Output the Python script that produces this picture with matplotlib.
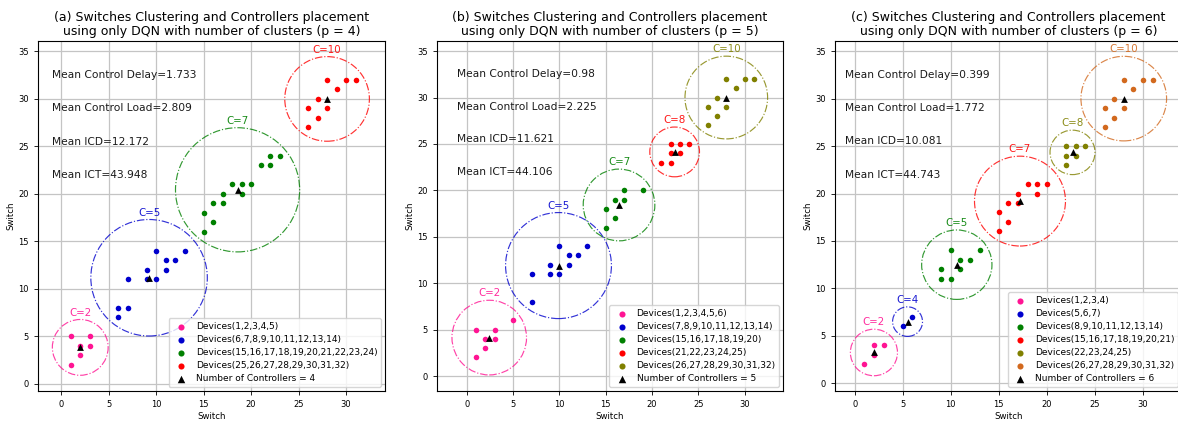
import numpy as np
import matplotlib
matplotlib.use("Agg")
import matplotlib.pyplot as plt
from matplotlib.patches import Circle

# ---------------------------------------------------------------------------
# Data: switch coordinates per cluster, for p = 4, 5, 6
# ---------------------------------------------------------------------------
a_x = [[1, 3, 2, 3, 2, 1],
       [6, 7, 6, 7, 9, 9, 10, 10, 11, 11, 12, 13],
       [15, 16, 15, 16, 17, 17, 19, 18, 19, 20, 21, 22, 22, 23],
       [26, 27, 26, 28, 27, 29, 28, 30, 31]]
a_y = [[5, 5, 4, 4, 3, 2],
       [8, 8, 7, 11, 12, 11, 11, 14, 13, 12, 13, 14],
       [16, 17, 18, 19, 19, 20, 20, 21, 21, 21, 23, 23, 24, 24],
       [27, 28, 29, 29, 30, 31, 32, 32, 32]]
a_c = [2, 5, 7, 10]
a_devices = ["Devices(1,2,3,4,5)",
             "Devices(6,7,8,9,10,11,12,13,14)",
             "Devices(15,16,17,18,19,20,21,22,23,24)",
             "Devices(25,26,27,28,29,30,31,32)"]
a_metrics = [1.733, 2.809, 12.172, 43.948]

b_x = [[1, 3, 5, 2, 3, 2, 1],
       [7, 7, 9, 9, 10, 10, 11, 11, 12, 13],
       [17, 19, 16, 17, 15, 16, 15],
       [22, 23, 24, 22, 23, 21, 22],
       [26, 27, 26, 28, 27, 29, 28, 30, 31]]
b_y = [[5, 5, 6, 4, 4, 3, 2],
       [11, 8, 11, 12, 11, 14, 12, 13, 13, 14],
       [20, 20, 19, 19, 18, 17, 16],
       [25, 25, 25, 24, 24, 23, 23],
       [27, 28, 29, 29, 30, 31, 32, 32, 32]]
b_c = [2, 5, 7, 8, 10]
b_devices = ["Devices(1,2,3,4,5,6)",
             "Devices(7,8,9,10,11,12,13,14)",
             "Devices(15,16,17,18,19,20)",
             "Devices(21,22,23,24,25)",
             "Devices(26,27,28,29,30,31,32)"]
b_metrics = ["0.98", "2.225", "11.621", "44.106"]

c_x = [[2, 3, 2, 1],
       [5, 6],
       [10, 13, 11, 12, 9, 11, 9, 10],
       [18, 19, 20, 17, 19, 16, 17, 15, 16, 15],
       [22, 23, 24, 22, 23, 22],
       [26, 27, 26, 28, 27, 29, 28, 30, 31]]
c_y = [[4, 4, 3, 2],
       [6, 7],
       [14, 14, 13, 13, 12, 12, 11, 11],
       [21, 21, 21, 20, 20, 19, 19, 18, 17, 16],
       [25, 25, 25, 24, 24, 23],
       [27, 28, 29, 29, 30, 31, 32, 32, 32]]
c_c = [2, 4, 5, 7, 8, 10]
c_devices = ["Devices(1,2,3,4)",
             "Devices(5,6,7)",
             "Devices(8,9,10,11,12,13,14)",
             "Devices(15,16,17,18,19,20,21)",
             "Devices(22,23,24,25)",
             "Devices(26,27,28,29,30,31,32)"]
c_metrics = [0.399, 1.772, 10.081, 44.743]

# ---------------------------------------------------------------------------
# Style
# ---------------------------------------------------------------------------
PINK, BLUE, GREEN, RED, OLIVE, ORANGE = ("#ff1493", "#0000cd", "#008000",
                                         "#ff0000", "#808000", "#d2691e")
CIRCLE_PAD = 0.85


def draw_panel(ax, tag, xs, ys, cs, devices, metrics, colors, xlim, ylim):
    ctrl_x, ctrl_y = [], []
    for x, y, c, lab, col in zip(xs, ys, cs, devices, colors):
        x = np.asarray(x, float)
        y = np.asarray(y, float)
        cx, cy = x.mean(), y.mean()
        r = np.hypot(x - cx, y - cy).max() + CIRCLE_PAD
        ax.add_patch(Circle((cx, cy), r, fill=False, ls="-.", lw=0.85,
                            ec=col, alpha=0.8, zorder=2))
        ax.scatter(x, y, s=16, color=col, label=lab, zorder=3, linewidths=0)
        ax.text(cx, cy + r + 0.2, f"C={c}", color=col, ha="center",
                va="bottom", fontsize=7.4, alpha=0.9)
        ctrl_x.append(cx)
        ctrl_y.append(cy)
    ax.scatter(ctrl_x, ctrl_y, marker="^", s=24, color="k", zorder=4,
               linewidths=0, label=f"Number of Controllers = {len(xs)}")

    names = ["Mean Control Delay", "Mean Control Load", "Mean ICD", "Mean ICT"]
    for name, val, yy in zip(names, metrics, [32.5, 29, 25.5, 22]):
        ax.text(-1, yy, f"{name}={val}", fontsize=7.7, va="center", ha="left",
                color="#1a1a1a")

    ax.set_xlim(*xlim)
    ax.set_ylim(*ylim)
    ax.set_xticks(range(0, 31, 5))
    ax.set_yticks(range(0, 36, 5))
    ax.tick_params(labelsize=6.0, length=3, width=0.6)
    ax.grid(True, color="#c4c4c4", lw=0.9)
    ax.set_axisbelow(True)
    ax.set_xlabel("Switch", fontsize=6.2, labelpad=2)
    ax.set_ylabel("Switch", fontsize=6.2, labelpad=2)
    ax.set_title(f"({tag}) Switches Clustering and Controllers placement\n"
                 f"using only DQN with number of clusters (p = {len(xs)})",
                 fontsize=9, pad=4, linespacing=1.1)
    ax.legend(loc="lower right", fontsize=6.5, borderaxespad=0.45,
              handletextpad=0.6, labelspacing=0.45, markerscale=1.1)


fig = plt.figure(figsize=(11.78, 4.21), dpi=100)
W, H = 1178, 421
bottom, height = 30 / H, 350 / H

ax_a = fig.add_axes([38 / W, bottom, 347 / W, height])
ax_b = fig.add_axes([436.7 / W, bottom, 346.6 / W, height])
ax_c = fig.add_axes([835 / W, bottom, 347 / W, height])

draw_panel(ax_a, "a", a_x, a_y, a_c, a_devices, a_metrics,
           [PINK, BLUE, GREEN, RED], (-2.45, 34.1), (-0.76, 36.1))
draw_panel(ax_b, "b", b_x, b_y, b_c, b_devices, b_metrics,
           [PINK, BLUE, GREEN, RED, OLIVE], (-3.24, 34.15), (-1.61, 36.09))
draw_panel(ax_c, "c", c_x, c_y, c_c, c_devices, c_metrics,
           [PINK, BLUE, GREEN, RED, OLIVE, ORANGE], (-2.05, 34.06), (-0.81, 36.07))

fig.savefig("out.png", dpi=100)
